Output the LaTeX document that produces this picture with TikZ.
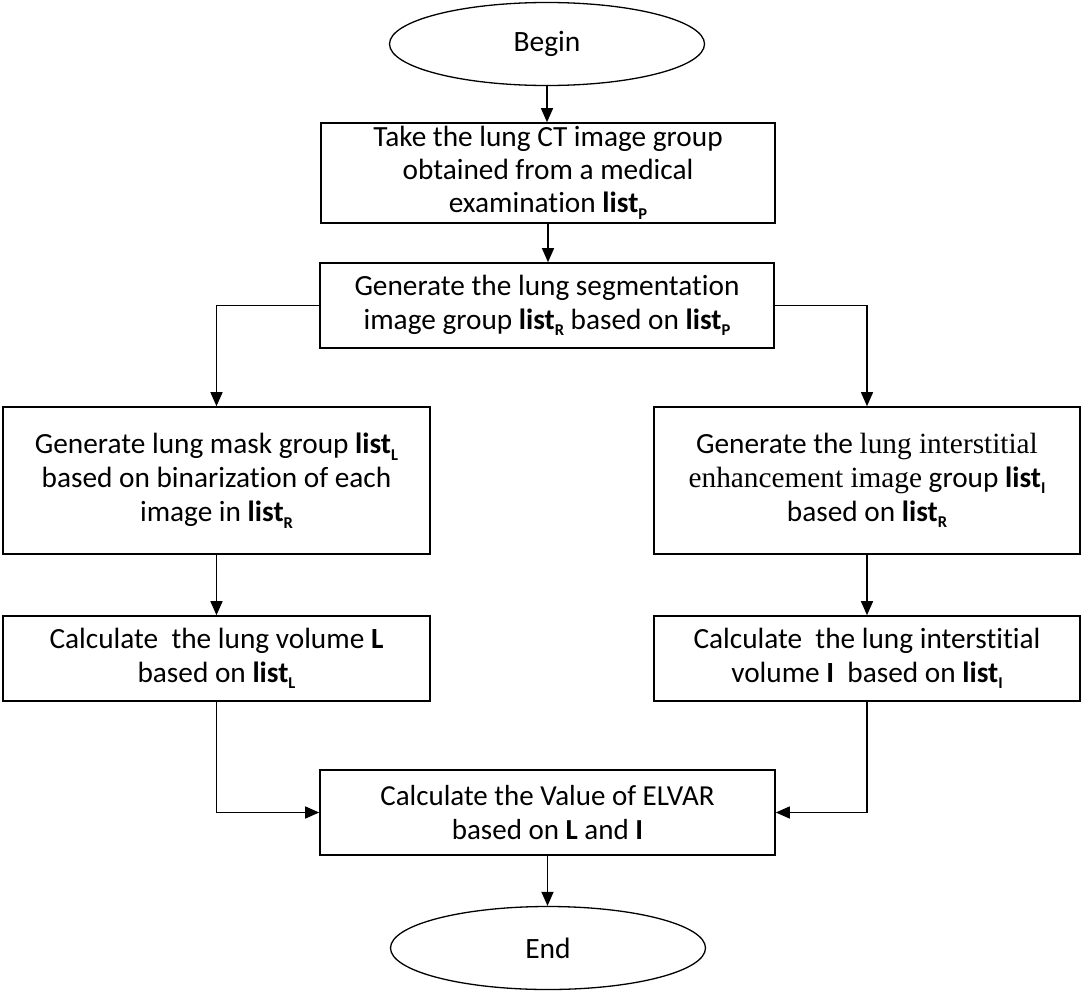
\documentclass[tikz,border=0pt]{standalone}
\usepackage{fontspec}
\setmainfont{Carlito}[Ligatures={NoCommon}]
\newfontfamily\serifpart{Liberation Serif}
\usetikzlibrary{arrows.meta,shapes.geometric}
\newcommand{\lst}[1]{\textbf{list}\raisebox{-0.22em}{\fontsize{16.5}{16.5}\selectfont\bfseries #1}}
\begin{document}
\begin{tikzpicture}[x=1pt,y=-1pt,
  box/.style={draw, line width=1.6pt, rectangle, inner sep=0pt, align=center, font=\fontsize{29.3}{34}\selectfont},
  term/.style={draw, ellipse, line width=1.3pt, inner sep=0pt, minimum width=315pt, minimum height=83pt, font=\fontsize{29.5}{34}\selectfont},
  arr/.style={line width=1.4pt, -{Triangle[length=14pt,width=12pt]}}]
\useasboundingbox (0,0) rectangle (1084,993);
\node[term] (begin) at (547,44) {Begin};
\node[box, minimum width=454pt, minimum height=100pt, font=\fontsize{29.3}{33}\selectfont] (b1) at (548,173) {Take the lung CT image group\\obtained from a medical\\examination \lst{P}};
\node[box, minimum width=454pt, minimum height=85pt] (b2) at (547,305.5) {Generate the lung segmentation\\image group \lst{R} based on \lst{P}};
\node[box, minimum width=427pt, minimum height=147pt] (b3) at (216.5,480.5) {Generate lung mask group \lst{L}\\based on binarization of each\\image in \lst{R}};
\node[box, minimum width=427pt, minimum height=85pt] (b4) at (216.5,658.5) {Calculate~ the lung volume \textbf{L}\\based on \lst{L}};
\node[box, minimum width=426pt, minimum height=147pt] (b5) at (867,480.5) {Generate the {\serifpart lung interstitial}\\{\serifpart enhancement image} group \lst{I}\\based on \lst{R}};
\node[box, minimum width=426pt, minimum height=85pt] (b6) at (867,658.5) {Calculate~ the lung interstitial\\volume \textbf{I}~ based on \lst{I}};
\node[box, minimum width=455pt, minimum height=85pt, font=\fontsize{29}{34}\selectfont] (b7) at (547.5,812.5) {Calculate the Value of ELVAR\\based on \textbf{L} and \textbf{I}};
\node[term] (end) at (548,948) {End};
\draw[arr] (begin.south) -- (begin.south |- b1.north);
\draw[arr] (b1.south) -- (b1.south |- b2.north);
\draw[arr] (b2.west) -| (b3.north);
\draw[arr] (b2.east) -| (b5.north);
\draw[arr] (b3) -- (b4);
\draw[arr] (b5) -- (b6);
\draw[arr] (b4.south) |- (b7.west);
\draw[arr] (b6.south) |- (b7.east);
\draw[arr] (b7.south) -- (b7.south |- end.north);
\end{tikzpicture}
\end{document}
